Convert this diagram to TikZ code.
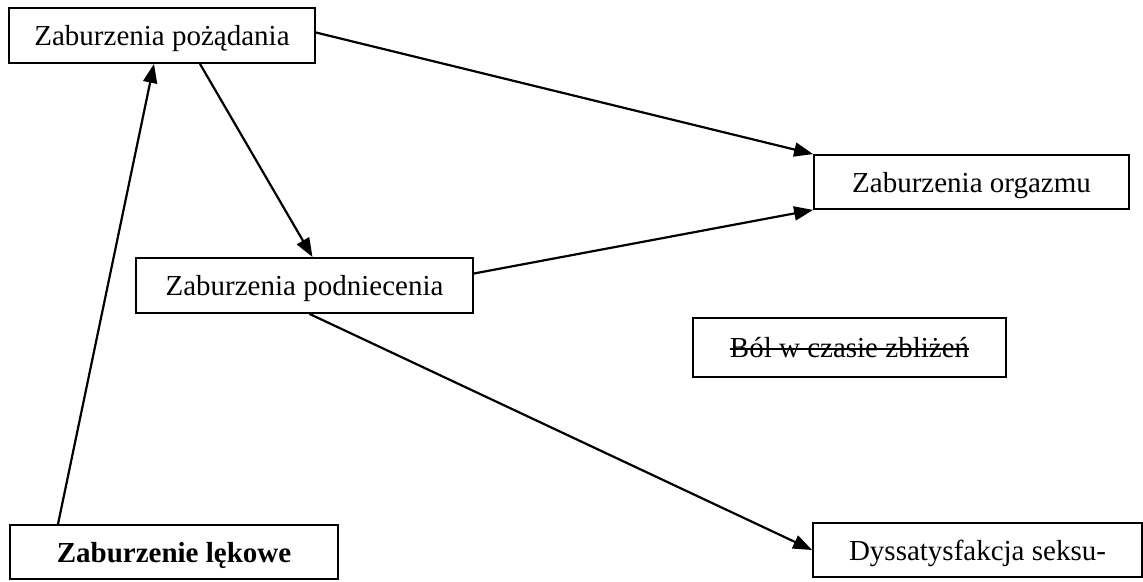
\documentclass[tikz,border=0pt]{standalone}
\usepackage{fontspec}
\setmainfont{Liberation Serif}
\usetikzlibrary{arrows.meta}
\begin{document}
\begin{tikzpicture}[x=1pt,y=-1pt,
  box/.style={draw,line width=1.8pt,inner sep=0pt,align=center,
    text height=20pt,text depth=0pt,
    font=\fontsize{29}{34}\selectfont},
  txt/.style={inner sep=0pt,font=\fontsize{29}{34}\selectfont},
  link/.style={line width=2.2pt,-{Triangle[length=19pt,width=14pt]}}]
\useasboundingbox (0,0) rectangle (1143,581);
\node[box,minimum width=306pt,minimum height=55pt] (des) at (162,35.5) {Zaburzenia pożądania};
\node[box,minimum width=315pt,minimum height=54pt] (org) at (971.5,182) {Zaburzenia orgazmu};
\node[box,minimum width=337pt,minimum height=55pt] (aro) at (304.5,285.5) {Zaburzenia podniecenia};
% struck-through label inside its own frame
\node[box,minimum width=313pt,minimum height=59pt] (pain) at (849.5,347.5) {};
\node[txt,anchor=base] (painlbl) at (849.5,357) {Ból w czasie zbliżeń};
\draw[line width=2pt] ([yshift=8pt]painlbl.base west) -- ([yshift=8pt]painlbl.base east);
\node[box,minimum width=328pt,minimum height=54pt,font=\fontsize{29}{34}\selectfont\bfseries] (anx) at (174,552) {Zaburzenie lękowe};
\node[box,minimum width=329pt,minimum height=54pt] (dys) at (977.5,550) {Dyssatysfakcja seksu-};
% connectors
\draw[link] ([yshift=3pt]des.east) -- (org.north west);
\draw[link] ([yshift=12pt]aro.east) -- (org.south west);
\draw[link] ([xshift=38pt]des.south) -- ([xshift=8pt]aro.north);
\draw[link] ([xshift=-116pt]anx.north) -- ([xshift=-8pt]des.south);
\draw[link] ([xshift=5pt]aro.south) -- (dys.west);
\end{tikzpicture}
\end{document}
